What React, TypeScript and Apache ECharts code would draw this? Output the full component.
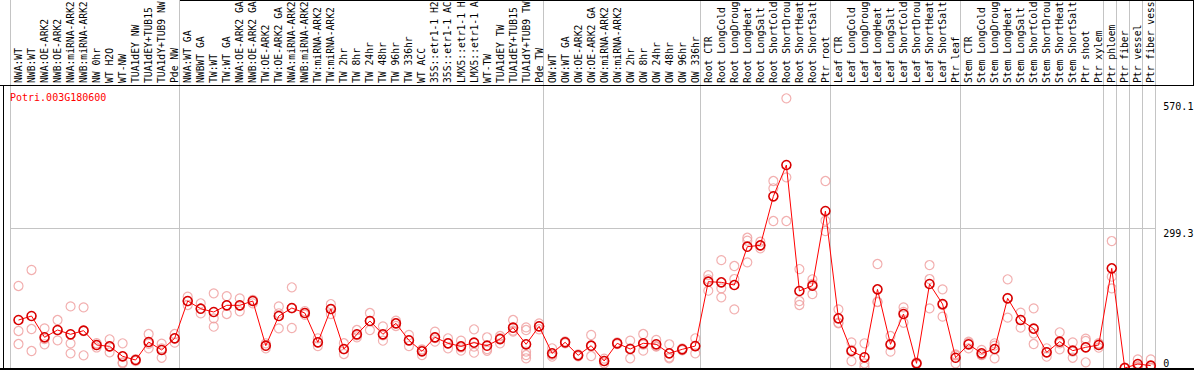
import React, { useEffect, useRef } from 'react';
import * as echarts from 'echarts';

const geneId = 'Potri.003G180600';

const categories = [
  'NWA:WT', 'NWB:WT', 'NWA:OE-ARK2', 'NWB:OE-ARK2', 'NWA:miRNA-ARK2', 'NWB:miRNA-ARK2', 'NW 0hr', 'WT H2O', 'WT-NW',
  'TUA1dEY NW', 'TUA1dEY+TUB15', 'TUA1dY+TUB9 NW', 'Pde NW',
  'NWA:WT GA', 'NWBWT GA', 'TW:WT', 'TW:WT GA', 'NWA:OE-ARK2 GA', 'NWB:OE-ARK2 GA', 'TW:OE-ARK2', 'TW:OE-ARK2 GA',
  'NWA:miRNA-ARK2 GA', 'NWB:miRNA-ARK2 GA', 'TW:miRNA-ARK2', 'TW:miRNA-ARK2', 'TW 2hr', 'TW 8hr', 'TW 24hr', 'TW 48hr',
  'TW 96hr', 'TW 336hr', 'WT ACC', '35S::etr1-1 H2O', '35S::etr1-1 ACC', 'LMX5::etr1-1 H2O', 'LMX5::etr1-1 ACC', 'WT-TW',
  'TUA1dEY TW', 'TUA1dEY+TUB15', 'TUA1dY+TUB9 TW', 'Pde TW',
  'OW:WT', 'OW:WT GA', 'OW:OE-ARK2', 'OW:OE-ARK2 GA', 'OW:miRNA-ARK2', 'OW:miRNA-ARK2', 'OW 2hr', 'OW 8hr', 'OW 24hr',
  'OW 48hr', 'OW 96hr', 'OW 336hr',
  'Root CTR', 'Root LongCold', 'Root LongDrought', 'Root LongHeat', 'Root LongSalt', 'Root ShortCold', 'Root ShortDrought',
  'Root ShortHeat', 'Root ShortSalt', 'Ptr root',
  'Leaf CTR', 'Leaf LongCold', 'Leaf LongDrought', 'Leaf LongHeat', 'Leaf LongSalt', 'Leaf ShortCold', 'Leaf ShortDrought',
  'Leaf ShortHeat', 'Leaf ShortSalt', 'Ptr leaf',
  'Stem CTR', 'Stem LongCold', 'Stem LongDrought', 'Stem LongHeat', 'Stem LongSalt', 'Stem ShortCold', 'Stem ShortDrought',
  'Stem ShortHeat', 'Stem ShortSalt', 'Ptr shoot', 'Ptr xylem',
  'Ptr phloem', 'Ptr fiber', 'Ptr vessel', 'Ptr fiber vessel',
];

const meanValues = [
  102.8, 111.4, 65.8, 81.4, 72.2, 80, 49.3, 46.4, 25, 17.1, 55.7, 38.6, 63.6,
  143.5, 127, 120, 134.3, 134.3, 143.5, 47.8, 111.4, 128.5, 117.8, 55, 126.4, 40.7, 72.2, 100.7, 72.2,
  95.7, 59.3, 35.7, 65.8, 52.9, 46.4, 54.3, 47.8, 62, 86.4, 50.8, 89.3,
  31.4, 55, 27.2, 47.8, 15, 52.9, 40.7, 52.9, 50.8, 31.4, 40, 47,
  184.9, 183.5, 177.8, 259.9, 262.8, 367.8, 434.9, 165, 176.4, 336.3,
  106.4, 36.4, 22.9, 168.5, 50.8, 115.7, 10, 180, 137, 22,
  50.8, 31.4, 40.7, 149.3, 102.8, 84.3, 33.6, 56.4, 37.1, 44.3, 49.3,
  213.5, 0, 8.6, 5,
];

const replicateValues = [
  [175.7, 79.3, 51.4], [210, 83.5, 36.4], [85, 62, 50.8], [102.8, 81, 59.3], [132, 52.9, 31.4], [130, 79.3, 27.2],
  [53, 49, 44], [61.5, 46, 33.6], [52.9, 12, 10], [19, 17, 15], [72.8, 52, 42.2], [52, 42, 22], [72.8, 63.6, 54.3],
  [152.8, 143, 135], [138.6, 127, 117], [160, 106.4, 88.5], [154, 134, 115.7], [149, 133, 121.5], [145.7, 145, 138.6],
  [52.9, 48, 42.2], [132, 117.2, 85], [172.9, 128, 85.7], [122, 118, 114], [63.6, 55, 47], [137, 126, 115.7],
  [53, 40, 30], [81.4, 70, 65.8], [117.8, 101, 81.4], [89.3, 70, 58.5], [101.4, 96, 90], [70.7, 59, 47],
  [40, 38, 27.8], [77.8, 64, 56.4], [63.6, 53, 42.2], [58.5, 44, 37.1], [82.9, 45.7, 32.8], [65.8, 40.7, 37],
  [68.5, 64, 52.9], [102.8, 80, 77.8], [87, 81.4, 35, 27.8, 20.8], [95.7, 89, 83],
  [42.2, 28, 24.2], [57, 55, 53], [29, 27, 25], [70.7, 47, 25.7], [20, 15, 10], [55, 53, 51], [58.5, 42, 20.8],
  [72.8, 50, 37.1], [60, 47, 45.7], [50.8, 23, 20.8], [42, 40, 38], [63.6, 47, 31.4],
  [199, 190, 165.6], [231, 170.7, 151.4], [218.5, 190.6, 125.7], [279, 272.7, 226.4], [270.5, 262, 256.4],
  [400.6, 385, 314.9], [577.8, 408.5, 314.9], [212, 143.5, 135], [190, 180, 158.5], [400.6, 315.6, 293.5],
  [125.7, 97, 95.7], [55, 39, 15], [52.9, 10, 2.8], [222.8, 142, 141], [68.5, 49, 35], [130, 120, 97],
  [12, 10, 8], [220.6, 190.6, 127.8], [168.5, 135, 110], [29.3, 27, 10],
  [56.4, 54, 42.2], [38.6, 28, 27.8], [52.9, 48, 20.8], [190, 150, 107.8], [118.5, 103, 86.4], [127.8, 74, 51.4],
  [42.2, 34, 24.2], [76.5, 53, 40], [55, 35, 22], [62.8, 58, 12.2], [53, 51, 43.5],
  [272, 195.6, 170.7], [1, 0, 0], [18.6, 4, 3], [18.6, 0, 0],
];

const groupStarts = [0, 13, 41, 53, 63, 73, 84, 85, 86, 87];
const yLabelValues = [299.3, 570.1];
const yZeroLabel = [0];
const yGridValues = [299.3];
const Y_MAX = 788.4;

const FONT = 'DejaVu Sans Mono';
const GRID_GRAY = '#c4c4c4';

export default function App() {
  const ref = useRef<HTMLDivElement>(null);
  useEffect(() => {
    document.body.style.margin = '0';
    const chart = echarts.init(ref.current!, null, { renderer: 'svg' });
    const scatterData: number[][] = [];
    replicateValues.forEach((reps, i) => reps.forEach((v) => scatterData.push([i, v])));
    const blackLine = (x1: number, y1: number, x2: number, y2: number, w = 1) => ({
      type: 'line',
      silent: true,
      z: 10,
      shape: { x1, y1, x2, y2 },
      style: { stroke: '#000', lineWidth: w },
    });
    chart.setOption({
      animation: false,
      backgroundColor: '#ffffff',
      title: {
        text: geneId,
        left: 10,
        top: 92,
        padding: 0,
        textStyle: { color: '#ff0000', fontSize: 10, fontFamily: FONT, fontWeight: 'normal' },
      },
      grid: [
        { left: 10, right: 38.7, top: 0, bottom: 2, containLabel: false, outerBoundsMode: 'none' },
        { left: 12, right: 36.7, top: 0, bottom: 2, containLabel: false, outerBoundsMode: 'none' },
      ],
      xAxis: [
        {
          type: 'category',
          gridIndex: 0,
          data: categories,
          position: 'top',
          offset: -85,
          boundaryGap: true,
          axisLine: { show: false },
          axisTick: { show: false },
          axisLabel: { show: false },
          splitLine: {
            show: true,
            interval: (i: number) => groupStarts.includes(i),
            lineStyle: { color: GRID_GRAY, width: 1 },
          },
        },
        {
          type: 'category',
          gridIndex: 1,
          data: categories,
          position: 'top',
          offset: -85,
          boundaryGap: true,
          axisLine: { show: false },
          axisTick: { show: false },
          splitLine: { show: false },
          axisLabel: { interval: 0, rotate: 90, margin: 2, fontSize: 9.7, fontFamily: FONT, color: '#000' },
        },
      ],
      yAxis: [
        {
          type: 'value',
          gridIndex: 0,
          position: 'right',
          min: 0,
          max: Y_MAX,
          axisLine: { show: false },
          axisTick: { show: false, customValues: yGridValues },
          splitLine: { show: true, lineStyle: { color: GRID_GRAY, width: 1 } },
          axisLabel: {
            customValues: yLabelValues,
            verticalAlign: 'top',
            margin: 8,
            fontSize: 10,
            fontFamily: FONT,
            color: '#000',
            formatter: (v: number) => String(v),
          },
        },
        {
          type: 'value',
          gridIndex: 0,
          position: 'right',
          min: 0,
          max: Y_MAX,
          axisLine: { show: false },
          axisTick: { show: false },
          splitLine: { show: false },
          axisLabel: {
            customValues: yZeroLabel,
            verticalAlign: 'bottom',
            margin: 8,
            fontSize: 10,
            fontFamily: FONT,
            color: '#000',
            formatter: (v: number) => String(v),
          },
        },
        { type: 'value', gridIndex: 1, min: 0, max: Y_MAX, show: false, splitLine: { show: false } },
      ],
      series: [
        {
          type: 'scatter',
          xAxisIndex: 1,
          yAxisIndex: 2,
          data: scatterData,
          symbol: 'circle',
          symbolSize: 9,
          silent: true,
          z: 2,
          itemStyle: { color: 'rgba(0,0,0,0)', borderColor: '#ef9c9c', borderWidth: 1.2 },
        },
        {
          type: 'line',
          xAxisIndex: 1,
          yAxisIndex: 2,
          data: meanValues,
          symbol: 'circle',
          symbolSize: 9,
          showAllSymbol: true,
          silent: true,
          z: 3,
          lineStyle: { color: '#ff0000', width: 1 },
          itemStyle: { color: 'rgba(0,0,0,0)', borderColor: '#d80000', borderWidth: 1.6 },
        },
      ],
      graphic: [
        blackLine(0, 85.5, 1194, 85.5),
        blackLine(180, 0.5, 1194, 0.5),
        blackLine(3.5, 85, 3.5, 370),
        blackLine(0, 369, 1194, 369, 2),
        blackLine(1193.5, 0, 1193.5, 85),
      ],
    });
    return () => chart.dispose();
  }, []);
  return <div ref={ref} style={{ position: 'fixed', left: 0, top: 0, width: 1194, height: 370 }} />;
}
